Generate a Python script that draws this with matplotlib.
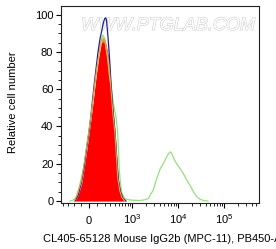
"""
Flow cytometry overlay histogram: CL405-65128 Mouse IgG2b isotype.
Red filled = unstained, lines = other samples, on a biexponential-like axis.
"""

import matplotlib
matplotlib.use("Agg")
import matplotlib.pyplot as plt
import matplotlib.patheffects as pe
from matplotlib.ticker import FixedLocator, NullFormatter

plt.rcParams.update({
    "font.family": ["Liberation Sans", "DejaVu Sans"],
    "mathtext.fontset": "custom",
    "mathtext.rm": "Liberation Sans",
    "mathtext.it": "Liberation Sans:italic",
    "font.size": 8,
})

# fluorescence intensity (PB450-A) vs relative cell number
red_x = [-178, -135, -87, -59, -27, 0, 23, 51, 71, 92, 122, 149, 170, 185, 200,
         224, 263, 293, 323, 353, 397, 434, 471, 526, 587, 688]
red_y = [0, 3, 9.6, 17, 27, 36, 44, 54, 62, 69, 78, 84, 87, 88, 87.5,
         84, 78, 69, 58, 48, 38, 25, 13, 6, 2.5, 0]

blue_x = [-178, -135, -90, -59, -29, 0, 23, 41, 65, 84, 109, 135, 163, 185, 205,
          219, 232, 257, 284, 313, 343, 375, 409, 446, 484, 541, 619, 726]
blue_y = [0, 3, 10, 17.5, 28, 37, 46, 54, 64, 71, 80, 87, 92, 96, 98,
          98.3, 97, 88, 77, 63, 52, 43, 33, 21, 11, 5, 1.5, 0]

orange_x = [-190, -145, -95, -65, -32, -4, 20, 48, 68, 89, 118, 145, 162, 176,
            190, 205, 222, 258, 290, 320, 350, 392, 430, 466, 520, 580, 680]
orange_y = [0, 3.5, 10.5, 18, 28, 37, 45, 55, 63, 70, 78, 84, 87.5, 85,
            87, 86, 83, 77, 68, 57, 47, 37, 24, 12, 5.5, 2, 0]

green_x = [-257, -208, -163, -115, -84, -47, -12, 18, 47, 77, 109, 135, 156, 173,
           192, 216, 249, 284, 323, 364, 421, 458, 484, 505, 541, 587, 688, 895,
           1155, 1489, 1917, 2263, 2527, 2909, 3250, 3559, 4069, 4802, 5496,
           6229, 6952, 7607, 8410, 9386, 11068, 13062, 15325, 18252, 21746,
           25529, 30092, 35498, 44881]
green_y = [0, 0.5, 2, 8, 14, 22, 33, 43, 54, 65, 76, 83, 87, 89,
           88, 84, 77, 67, 60, 52, 45, 38, 28, 17, 9, 4, 1.2, 0.6,
           0.4, 0.3, 0.7, 1.4, 3.5, 5.9, 10, 13, 17, 20.2, 23,
           25.5, 26.4, 24.5, 22, 20, 17.5, 14.8, 11.5, 8.5, 5,
           2.3, 1, 0.3, 0]

x_major = [0, 1e3, 1e4, 1e5]
x_major_labels = ["0", r"$\mathregular{10^{3}}$", r"$\mathregular{10^{4}}$",
                  r"$\mathregular{10^{5}}$"]
x_minor = ([-400, -300, -200, -100] + list(range(100, 1000, 100))
           + list(range(2000, 10000, 1000)) + list(range(20000, 100000, 10000))
           + list(range(200000, 600000, 100000)))
y_major = [0, 20, 40, 60, 80, 100]
y_minor = [v for v in range(0, 105, 5) if v % 20]

fig = plt.figure(figsize=(2.76, 2.49), dpi=100)
ax = fig.add_axes([61 / 276, 1 - 203.3 / 249, 198 / 276, 197.6 / 249])

ax.set_xscale("asinh", linear_width=234)
ax.set_xlim(-446, 575000)
ax.set_ylim(-1.2, 104.8)

# faint watermark behind the data
ax.text(0.54, 0.90, "WWW.PTGLAB.COM", transform=ax.transAxes,
        ha="center", va="center", fontsize=13, style="italic",
        color="white", zorder=0,
        path_effects=[pe.withStroke(linewidth=0.8, foreground="#cdcdcd")])

ax.fill_between(red_x, red_y, color="#ff0000", lw=0, zorder=2)
ax.plot(green_x, green_y, color="#94e07c", lw=0.9, zorder=3)
ax.plot(blue_x, blue_y, color="#1f1f9e", lw=0.9, zorder=4)
ax.plot(orange_x, orange_y, color="#e9a43a", lw=0.8, zorder=5)

ax.xaxis.set_major_locator(FixedLocator(x_major))
ax.set_xticklabels(x_major_labels)
ax.xaxis.set_minor_locator(FixedLocator(x_minor))
ax.xaxis.set_minor_formatter(NullFormatter())
ax.yaxis.set_major_locator(FixedLocator(y_major))
ax.yaxis.set_minor_locator(FixedLocator(y_minor))

ax.tick_params(axis="both", which="major", direction="out", length=3.5,
               width=0.8, labelsize=8)
ax.tick_params(axis="both", which="minor", direction="out", length=2,
               width=0.6)
ax.tick_params(axis="y", which="major", pad=2)
ax.tick_params(axis="x", which="major", pad=11.5)
for lab in ax.get_xticklabels():
    lab.set_va("baseline")

for sp in ax.spines.values():
    sp.set_linewidth(0.8)
    sp.set_color("#222222")

fig.text(13 / 276, 1 - 102 / 249, "Relative cell number", rotation=90,
         ha="center", va="center", fontsize=8)
fig.text(43 / 276, 1 - 239 / 249, "CL405-65128 Mouse IgG2b (MPC-11), PB450-A",
         ha="left", va="center", fontsize=8)

fig.savefig("out.png", dpi=100)
